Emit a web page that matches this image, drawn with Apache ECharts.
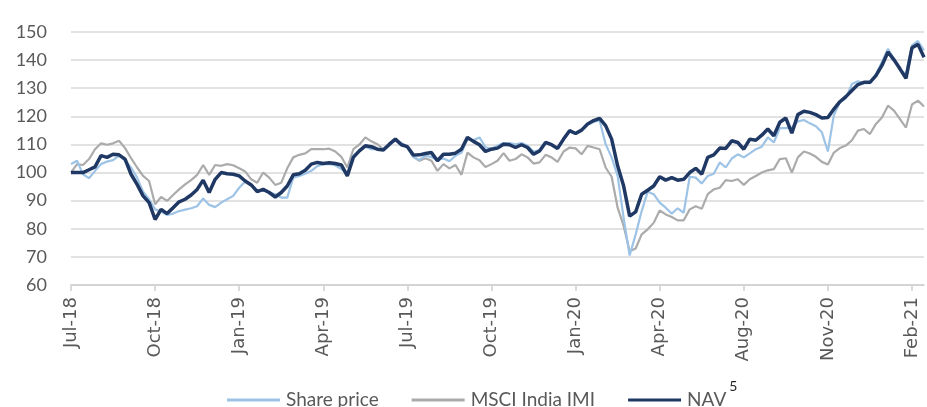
<!DOCTYPE html>
<html>
<head>
<meta charset="utf-8">
<script src="https://cdn.jsdelivr.net/npm/echarts@6/dist/echarts.min.js"></script>
<style>
  html, body { margin: 0; padding: 0; background: #fff; }
  #chart { width: 927px; height: 407px; }
</style>
</head>
<body>
<div id="chart"></div>
<script>
// tick labels, one every 14 points
const tickLabels = ['Jul-18', 'Oct-18', 'Jan-19', 'Apr-19', 'Jul-19', 'Oct-19', 'Jan-20', 'Apr-20', 'Aug-20', 'Nov-20', 'Feb-21']
const labelStep = 14

const sharePrice = [103, 104.2, 99.4, 98, 100.6, 103, 103.9, 104.4, 106, 104.2,
  101.8, 98.2, 93.2, 90.5, 86.9, 86.1, 84.9, 85.4, 86.3, 86.8,
  87.3, 88, 90.8, 88.5, 87.7, 89.3, 90.5, 91.7, 94.6, 96.8,
  95.8, 93.7, 93.7, 92.9, 92.3, 91.1, 91.1, 98.2, 98.8, 99.6,
  100.6, 102.3, 103, 103, 102.6, 101.2, 100, 106, 107.7, 109.2,
  108.3, 108.3, 108.5, 110, 111.5, 110.5, 109, 105.5, 104.5, 106,
  105.5, 104.5, 105, 104, 106, 107, 112, 111.5, 112.5, 109,
  108.5, 109.5, 110.5, 110.5, 110, 110.5, 109.5, 107.5, 108, 110.5,
  110, 108.5, 112, 114.5, 114, 115, 117, 118, 118.5, 110.1,
  105.4, 98.8, 83.9, 70.5, 78, 86.3, 93.2, 92.3, 89.3, 87.5,
  85.4, 87.3, 85.7, 98.5, 98.2, 96.1, 98.8, 99.6, 103.6, 101.8,
  105, 106.5, 105.4, 106.8, 108.3, 109.2, 112.5, 110.7, 115.8, 115.8,
  116.1, 118.2, 118.7, 117.5, 116.5, 114.3, 107.5, 120.5, 125, 126.5,
  131.5, 132.5, 131.8, 131.8, 134.9, 139.3, 144, 140.5, 136.5, 135.1,
  145.2, 146.8, 143.5]

const msciIndia = [100, 103, 102.7, 104.8, 108.3, 110.4, 109.9, 110.4, 111.3, 108.7,
  105.1, 101.8, 98.8, 97, 88.7, 91.3, 89.9, 92, 94, 95.8,
  97.3, 99.2, 102.7, 99.2, 102.7, 102.4, 103, 102.6, 101.5, 100.4,
  97.6, 96.4, 100, 98.2, 95.6, 96.4, 101.5, 105.4, 106.3, 106.8,
  108.3, 108.3, 108.3, 108.5, 107.5, 105.6, 101.8, 108.3, 109.9, 112.5,
  111.1, 110.1, 108.3, 109.5, 111.9, 110.4, 108.9, 105.6, 104.2, 105.1,
  104.2, 100.6, 103, 101.5, 102.7, 99.2, 107.1, 105.4, 104.4, 102,
  103, 104.2, 106.9, 104.2, 104.8, 106.5, 105.4, 103.2, 103.6, 106.3,
  105.4, 103.8, 107.5, 108.9, 108.6, 106.5, 109.5, 108.9, 108.3, 101.8,
  98.5, 87.5, 81, 72, 73, 78, 79.8, 82.1, 86.5, 85.1,
  84.2, 83, 83, 86.9, 88, 87.1, 92.3, 94, 94.6, 97.3,
  97, 97.6, 95.6, 97.6, 98.8, 100, 100.8, 101.2, 104.8, 105.1,
  100, 105.4, 107.5, 106.8, 105.6, 103.8, 102.9, 107.1, 108.7, 109.6,
  111.5, 114.9, 115.5, 113.7, 117.3, 119.6, 123.8, 122, 119, 116,
  124.2, 125.6, 123.5]

const nav = [100, 100, 100, 101, 102, 106, 105.4, 106.5, 106.3, 104.8,
  99.4, 95.8, 91.7, 89.3, 83.3, 86.9, 85.4, 87.5, 89.6, 90.5,
  92, 94, 97.3, 92.9, 97.6, 100, 99.6, 99.4, 98.8, 97,
  95.6, 93.2, 94, 92.9, 91.3, 92.9, 95.2, 99.2, 99.6, 100.8,
  103, 103.6, 103.2, 103.5, 103.2, 102.7, 98.8, 105.4, 107.7, 109.5,
  109.2, 108.3, 108, 110.1, 111.9, 109.9, 109.2, 106.2, 106.3, 106.8,
  107.1, 104.2, 106.5, 106.5, 106.9, 108.3, 112.5, 111.1, 109.9, 107.5,
  108.3, 108.7, 110.1, 109.9, 108.9, 109.9, 108.9, 106.5, 107.7, 110.7,
  109.9, 108.6, 111.9, 114.9, 113.9, 115.1, 117.3, 118.5, 119.3, 116.7,
  111.9, 102.4, 95.2, 84.5, 86, 92.3, 93.7, 95.2, 98.5, 97.3,
  98.2, 97.3, 97.6, 100, 101.5, 99.4, 105.4, 106.3, 108.7, 108.6,
  111.3, 110.7, 108.3, 111.9, 111.5, 113.3, 115.5, 113.1, 117.9, 119.4,
  114, 120.6, 121.8, 121.4, 120.6, 119.4, 119.6, 122.6, 125.2, 127,
  129.2, 131.3, 132.1, 132.1, 134.5, 138.1, 142.9, 140.1, 136.9, 133.5,
  144.4, 145.6, 141]

const categories = nav.map((v, i) => (i % labelStep === 0 ? tickLabels[i / labelStep] : ''))

const legendFont = 'Lato, sans-serif'

const chart = echarts.init(document.getElementById('chart'))

chart.setOption({
  animation: false,
  grid: {
    left: 71,
    right: 3,
    top: 32,
    bottom: 122
  },
  legend: {
    left: 222,
    top: 374,
    itemWidth: 53,
    itemHeight: 3,
    itemGap: 33,
    icon: 'rect',
    data: ['Share price', 'MSCI India IMI', 'NAV'],
    formatter: name => (name === 'NAV' ? '{n|NAV}{s|5}' : name),
    textStyle: {
      fontFamily: legendFont,
      fontSize: 19,
      color: '#595959',
      padding: [0, 0, 0, 1],
      rich: {
        n: {
          fontFamily: legendFont,
          fontSize: 19,
          color: '#595959'
        },
        s: {
          fontFamily: legendFont,
          fontSize: 14,
          color: '#262626',
          padding: [0, 0, 28, 3]
        }
      }
    }
  },
  xAxis: {
    type: 'category',
    data: categories,
    boundaryGap: false,
    axisLine: { lineStyle: { color: '#d0d0d0', width: 1.5 } },
    axisTick: {
      interval: i => i % labelStep === 0,
      length: 6,
      lineStyle: { color: '#d0d0d0', width: 1.5 }
    },
    axisLabel: {
      interval: i => i % labelStep === 0,
      rotate: 90,
      margin: 12,
      fontFamily: 'DejaVu Sans, sans-serif',
      fontSize: 18,
      color: '#595959'
    },
    splitLine: { show: false }
  },
  yAxis: {
    type: 'value',
    min: 60,
    max: 150,
    interval: 10,
    axisLine: { show: false },
    axisTick: { show: false },
    axisLabel: {
      margin: 24,
      fontFamily: 'Lato, sans-serif',
      fontSize: 18,
      color: '#595959'
    },
    splitLine: { lineStyle: { color: '#d9d9d9', width: 1.5 } }
  },
  series: [
    {
      name: 'Share price',
      type: 'line',
      data: sharePrice,
      showSymbol: false,
      z: 3,
      itemStyle: { color: '#9dc3e6' },
      lineStyle: { color: '#9dc3e6', width: 2.2 }
    },
    {
      name: 'MSCI India IMI',
      type: 'line',
      data: msciIndia,
      showSymbol: false,
      z: 2,
      itemStyle: { color: '#ababab' },
      lineStyle: { color: '#ababab', width: 2.2 }
    },
    {
      name: 'NAV',
      type: 'line',
      data: nav,
      showSymbol: false,
      z: 4,
      itemStyle: { color: '#1f3864' },
      lineStyle: { color: '#1f3864', width: 3.5 }
    }
  ]
})
</script>
</body>
</html>
